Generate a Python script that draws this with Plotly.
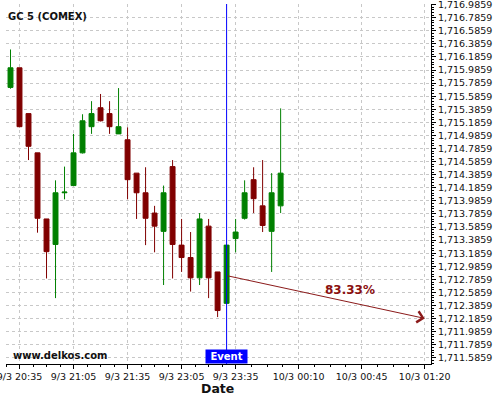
import numpy as np
import plotly.graph_objects as go

# ---- data (index-based 5-minute candles) ----
candle_index = list(range(31))
open_ = [1715.72, 1716.02, 1715.32, 1714.72, 1713.71, 1713.32, 1714.11, 1714.22, 1714.72, 1715.12,
         1715.41, 1715.32, 1715.01, 1714.92, 1714.41, 1714.11, 1713.80, 1713.52, 1714.51, 1713.31,
         1713.12, 1712.81, 1713.60, 1712.90, 1712.42, 1713.41, 1713.72, 1714.31, 1713.91, 1713.52,
         1713.91]
high = [1716.30, 1716.02, 1715.32, 1714.72, 1713.71, 1714.30, 1714.51, 1715.01, 1715.31, 1715.51,
        1715.62, 1715.51, 1715.71, 1715.11, 1714.41, 1714.50, 1713.91, 1714.22, 1714.61, 1713.71,
        1713.51, 1713.80, 1713.71, 1712.90, 1713.31, 1713.71, 1714.30, 1714.50, 1714.61, 1714.41,
        1715.40]
low = [1715.70, 1715.11, 1714.61, 1713.50, 1712.80, 1712.50, 1714.01, 1714.22, 1714.71, 1715.01,
       1715.20, 1715.01, 1715.01, 1714.01, 1713.71, 1713.31, 1713.20, 1712.70, 1712.80, 1712.90,
       1712.60, 1712.70, 1712.50, 1712.21, 1712.42, 1713.20, 1713.70, 1713.80, 1713.51, 1712.90,
       1713.80]
close = [1716.02, 1715.12, 1714.82, 1713.72, 1713.21, 1714.11, 1714.12, 1714.72, 1715.21, 1715.32,
         1715.21, 1715.12, 1715.12, 1714.31, 1714.11, 1713.72, 1713.60, 1714.11, 1713.32, 1713.12,
         1712.81, 1713.71, 1712.81, 1712.31, 1713.31, 1713.51, 1714.11, 1714.02, 1713.61, 1714.11,
         1714.41]

tick_index = [1, 7, 13, 19, 25, 32, 39, 46]
tick_labels = ["9/3 20:35", "9/3 21:05", "9/3 21:35", "9/3 23:05", "9/3 23:35",
               "10/3 00:10", "10/3 00:45", "10/3 01:20"]

y_tick_values = [round(1711.5859 + 0.2 * k, 4) for k in range(28)]
y_tick_labels = [f"{v:,.4f}" for v in y_tick_values]

event_index = 24
forecast_start = (24, 1712.844)
forecast_end = (46, 1712.19)
forecast_label = "83.33%"

# minor ticks: quarter points between major x ticks
ti = np.array(tick_index, dtype=float)
minor_x = [ti[0] - (ti[1] - ti[0]) * f for f in (0.75, 0.5, 0.25)]
for a, b in zip(ti[:-1], ti[1:]):
    minor_x += list(a + (b - a) * np.array([0.25, 0.5, 0.75]))

GREEN = "#008000"
RED = "#800000"
FONT = "DejaVu Sans"

fig = go.Figure()
fig.add_trace(go.Candlestick(
    x=candle_index, open=open_, high=high, low=low, close=close,
    increasing=dict(line=dict(color=GREEN, width=1), fillcolor=GREEN),
    decreasing=dict(line=dict(color=RED, width=1), fillcolor=RED),
    whiskerwidth=0, showlegend=False, hoverinfo="skip",
))

grid = dict(showgrid=True, gridcolor="#c8c8c8", griddash="3px,3px", gridwidth=1)

fig.update_layout(
    width=500, height=400,
    margin=dict(l=6, r=69, t=4, b=36, autoexpand=False),
    paper_bgcolor="white", plot_bgcolor="white",
    font=dict(family=FONT, size=10, color="black"),
    showlegend=False,
    boxgap=0.22,
    hovermode=False,
    xaxis=dict(
        range=[-0.5, 46.7], rangeslider=dict(visible=False), automargin=False,
        tickmode="array", tickvals=tick_index, ticktext=tick_labels,
        ticks="outside", ticklen=4, tickcolor="black",
        tickfont=dict(size=9.5, family=FONT, color="#111"),
        ticklabeloverflow="allow",
        showline=True, linecolor="black", linewidth=1, mirror=False,
        zeroline=False,
        minor=dict(tickmode="array", tickvals=minor_x, ticks="outside", ticklen=2,
                   tickcolor="black", showgrid=False),
        **grid,
    ),
    yaxis=dict(
        side="right", range=[1711.493, 1716.995], automargin=False,
        tickmode="array", tickvals=y_tick_values, ticktext=y_tick_labels,
        ticks="outside", ticklen=4, tickcolor="black",
        tickfont=dict(size=9.5, family=FONT, color="#111"),
        ticklabeloverflow="allow",
        showline=True, linecolor="black", linewidth=1,
        zeroline=False,
        minor=dict(dtick=0.04, tick0=1711.5859, ticks="outside", ticklen=2,
                   tickcolor="black", showgrid=False),
        **grid,
    ),
)

# event line
fig.add_shape(type="line", xref="x", yref="paper", x0=event_index, x1=event_index,
              y0=0, y1=1, line=dict(color="#0000ff", width=1))

# forecast arrow
fig.add_annotation(
    x=forecast_end[0], y=forecast_end[1], ax=forecast_start[0], ay=forecast_start[1],
    xref="x", yref="y", axref="x", ayref="y", text="", showarrow=True,
    arrowhead=4, arrowsize=2.2, arrowwidth=1, arrowcolor="#8b1a1a",
)
fig.add_annotation(
    x=37.7, y=1712.626, xref="x", yref="y", text=f"<b>{forecast_label}</b>",
    showarrow=False, font=dict(size=12, color="#8b1010", family=FONT),
)

# event label
fig.add_annotation(
    x=event_index, y=0, xref="x", yref="paper", yanchor="bottom", xanchor="center",
    text="<b> Event </b>", showarrow=False, bgcolor="#0000ff",
    font=dict(size=10, color="white", family=FONT), borderpad=1,
)

# axis title, chart title and watermark
fig.add_annotation(
    x=0.497, y=-0.069, xref="paper", yref="paper", xanchor="center", yanchor="middle",
    text="<b>Date</b>", showarrow=False, font=dict(size=12.5, color="#111", family=FONT),
)
fig.add_annotation(
    x=0.0, y=0.985, xref="paper", yref="paper", xanchor="left", yanchor="top",
    text="<b>GC 5 (COMEX)</b>", showarrow=False, font=dict(size=10, color="#111", family=FONT),
)
fig.add_annotation(
    x=0.012, y=0.004, xref="paper", yref="paper", xanchor="left", yanchor="bottom",
    text="<b>www.delkos.com</b>", showarrow=False, font=dict(size=10, color="#111", family=FONT),
)

fig.write_html("out.html", config={"displayModeBar": False},
               post_script="document.body.style.margin='0';")
